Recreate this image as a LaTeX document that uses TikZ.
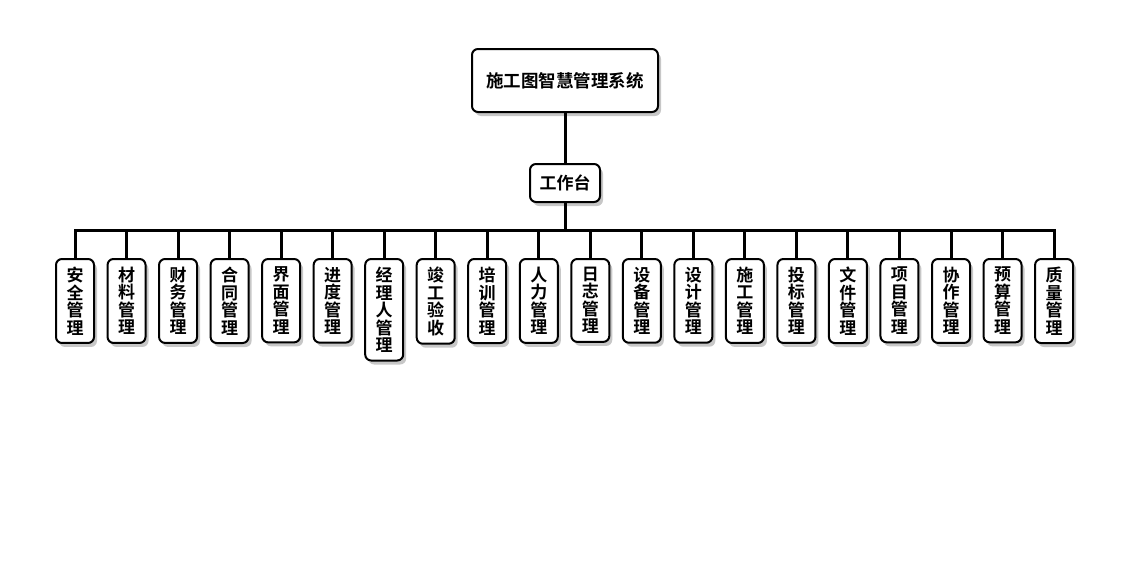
\documentclass[tikz,border=0pt]{standalone}
\usepackage{fontspec}
\setmainfont{Liberation Sans}
\newfontfamily\cjk{Noto Sans CJK SC}[BoldFont={* Bold}]
\usetikzlibrary{shadows}
\begin{document}
\begin{tikzpicture}[x=1pt,y=-1pt,
  box/.style={draw=black, line width=2pt, rounded corners=6pt, fill=white,
    drop shadow={shadow xshift=3pt, shadow yshift=-4pt, opacity=0.4, fill=black!55},
    font=\cjk\bfseries},
  topbox/.style={box, minimum width=186pt, minimum height=63pt, font=\cjk\bfseries\fontsize{17.5}{19}\selectfont},
  midbox/.style={box, minimum width=70pt, minimum height=38pt, font=\cjk\bfseries\fontsize{17}{19}\selectfont},
  leaf/.style={box, anchor=north, minimum width=38pt, inner xsep=0pt, inner ysep=8pt, align=center,
    font=\cjk\bfseries\fontsize{17}{17.5}\selectfont},
  conn/.style={line width=3pt}]
\useasboundingbox (0,0) rectangle (1130,560);
\node[topbox] (top) at (565,80.5) {施工图智慧管理系统};
\node[midbox] (mid) at (565,183) {工作台};
\coordinate (bus) at (565,230);
\foreach \t [count=\i] in {安\\全\\管\\理,材\\料\\管\\理,财\\务\\管\\理,合\\同\\管\\理,界\\面\\管\\理,进\\度\\管\\理,经\\理\\人\\管\\理,竣\\工\\验\\收,培\\训\\管\\理,人\\力\\管\\理,日\\志\\管\\理,设\\备\\管\\理,设\\计\\管\\理,施\\工\\管\\理,投\\标\\管\\理,文\\件\\管\\理,项\\目\\管\\理,协\\作\\管\\理,预\\算\\管\\理,质\\量\\管\\理} {
  \pgfmathsetmacro\xx{75+(\i-1)*51.53}
  \node[leaf] (l\i) at (\xx,258) {\t};
}
\draw[conn] (top) -- (mid);
\foreach \i in {1,...,20} {
  \draw[conn] (mid.south) -- (bus) -| (l\i.north);
}
\end{tikzpicture}
\end{document}
